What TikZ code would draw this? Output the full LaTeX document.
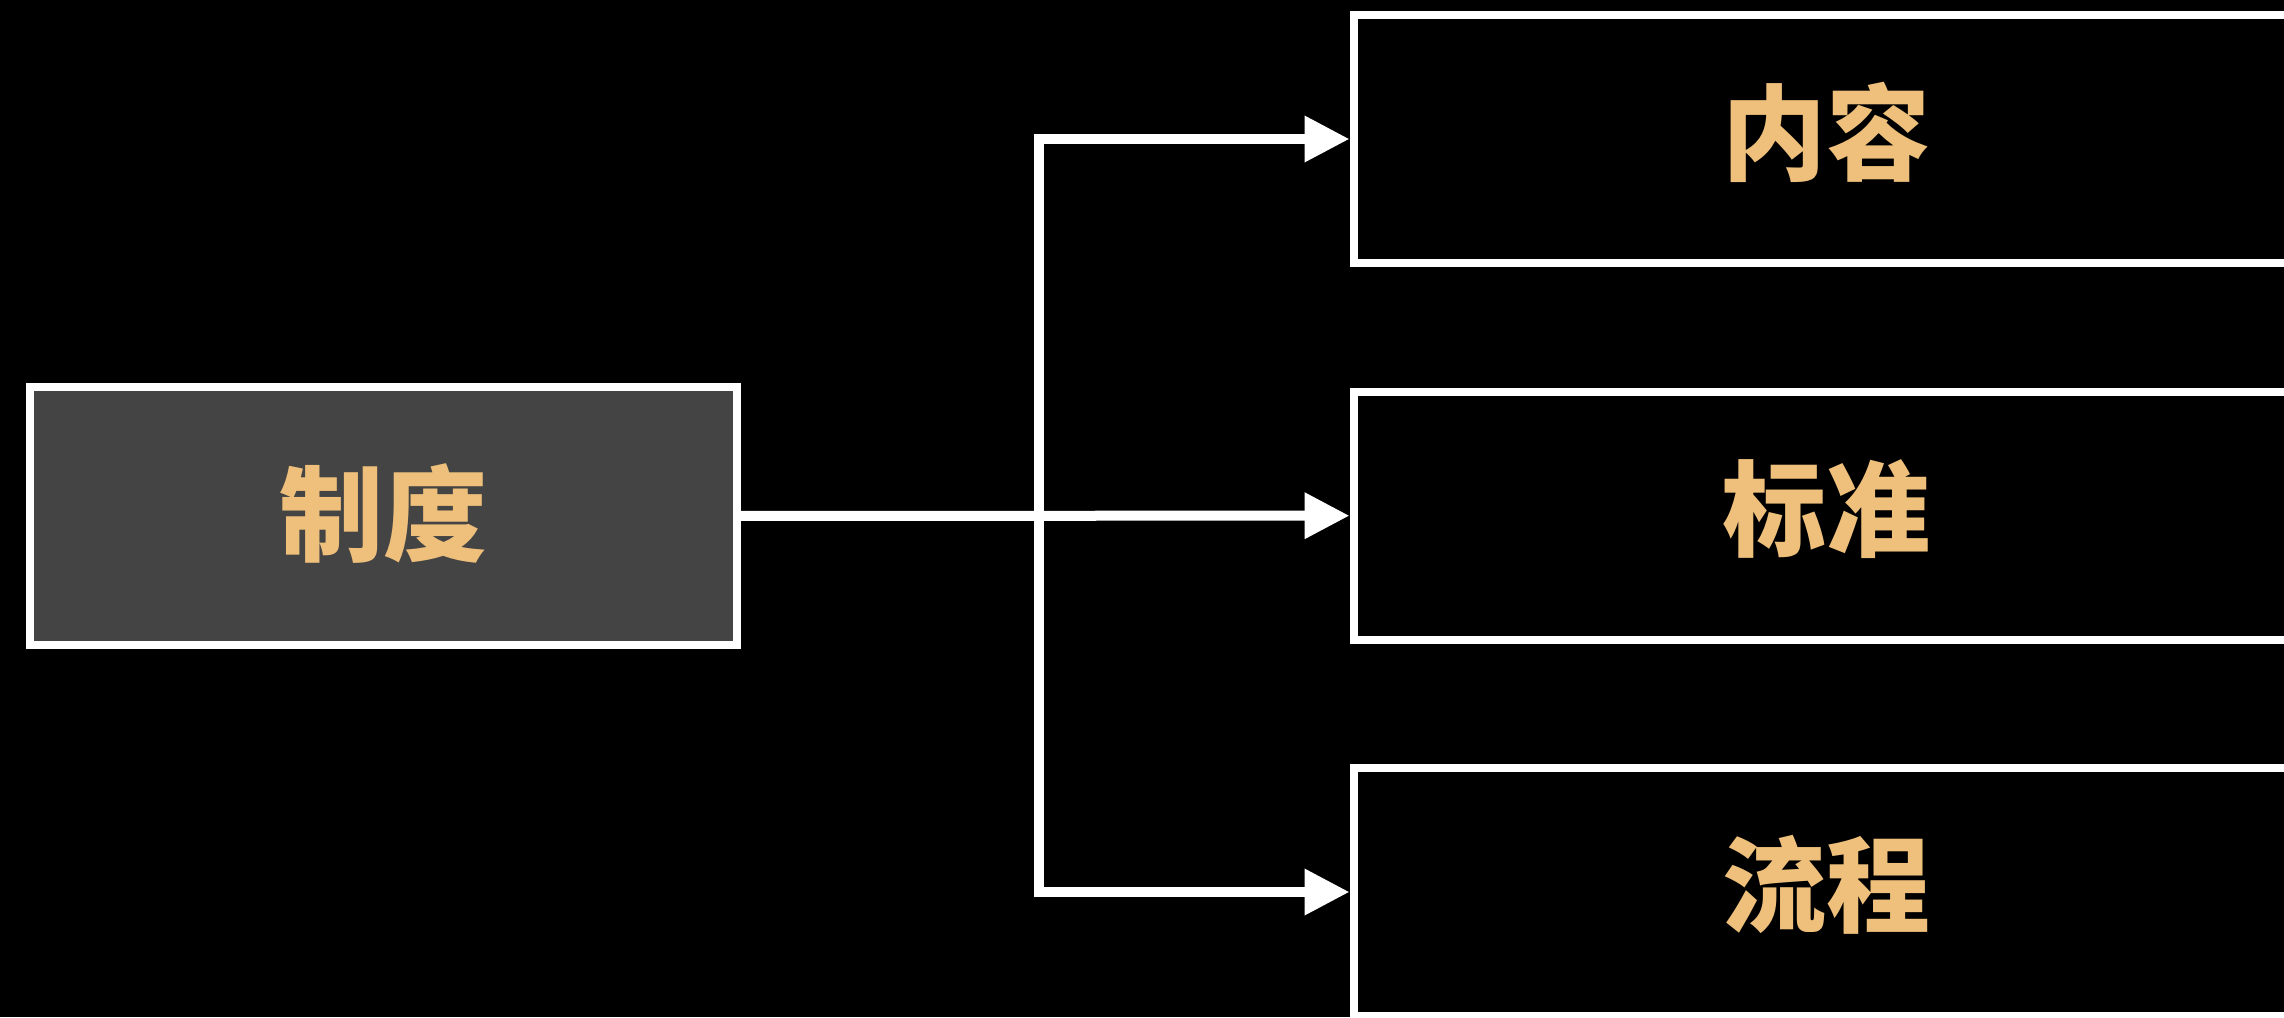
\documentclass[tikz,border=0pt]{standalone}
\usepackage{fontspec}
\newfontfamily\cjk{Noto Sans CJK SC}
\usetikzlibrary{arrows.meta}
\definecolor{gold}{HTML}{EEC07B}
\definecolor{darkbox}{HTML}{444444}
\newcommand\uplift[2]{\raisebox{0pt}[\height][\dimexpr\depth+#1\relax]{#2}}
\tikzset{
  box/.style={draw=white, line width=4pt, fill=black, text=gold,
    minimum width=473.25pt, minimum height=124pt, inner sep=0pt,
    font=\cjk\bfseries\fontsize{52}{52}\selectfont},
  link/.style={draw=white, line width=5pt, line join=miter},
  arr/.style={link, -{Triangle[length=22.5pt,width=22pt]}}
}
\begin{document}
\begin{tikzpicture}[x=0.5pt,y=-0.5pt]
\fill[black] (0,0) rectangle (2284,1017);
\useasboundingbox (0,0) rectangle (2284,1017);
\node[box, fill=darkbox, minimum width=353.5pt, minimum height=129pt] (zd) at (383.5,515.8) {\uplift{2pt}{制度}};
\node[box] (nr) at (1826.75,139) {\uplift{7pt}{内容}};
\node[box] (bz) at (1826.75,515.7) {\uplift{7pt}{标准}};
\node[box] (lc) at (1826.75,892) {\uplift{7pt}{流程}};
\coordinate (j) at (1039,515.7);
\draw[arr] (zd.east) -- (bz.west);
\draw[arr] (j) |- (nr.west);
\draw[arr] (j) |- (lc.west);
\end{tikzpicture}
\end{document}
